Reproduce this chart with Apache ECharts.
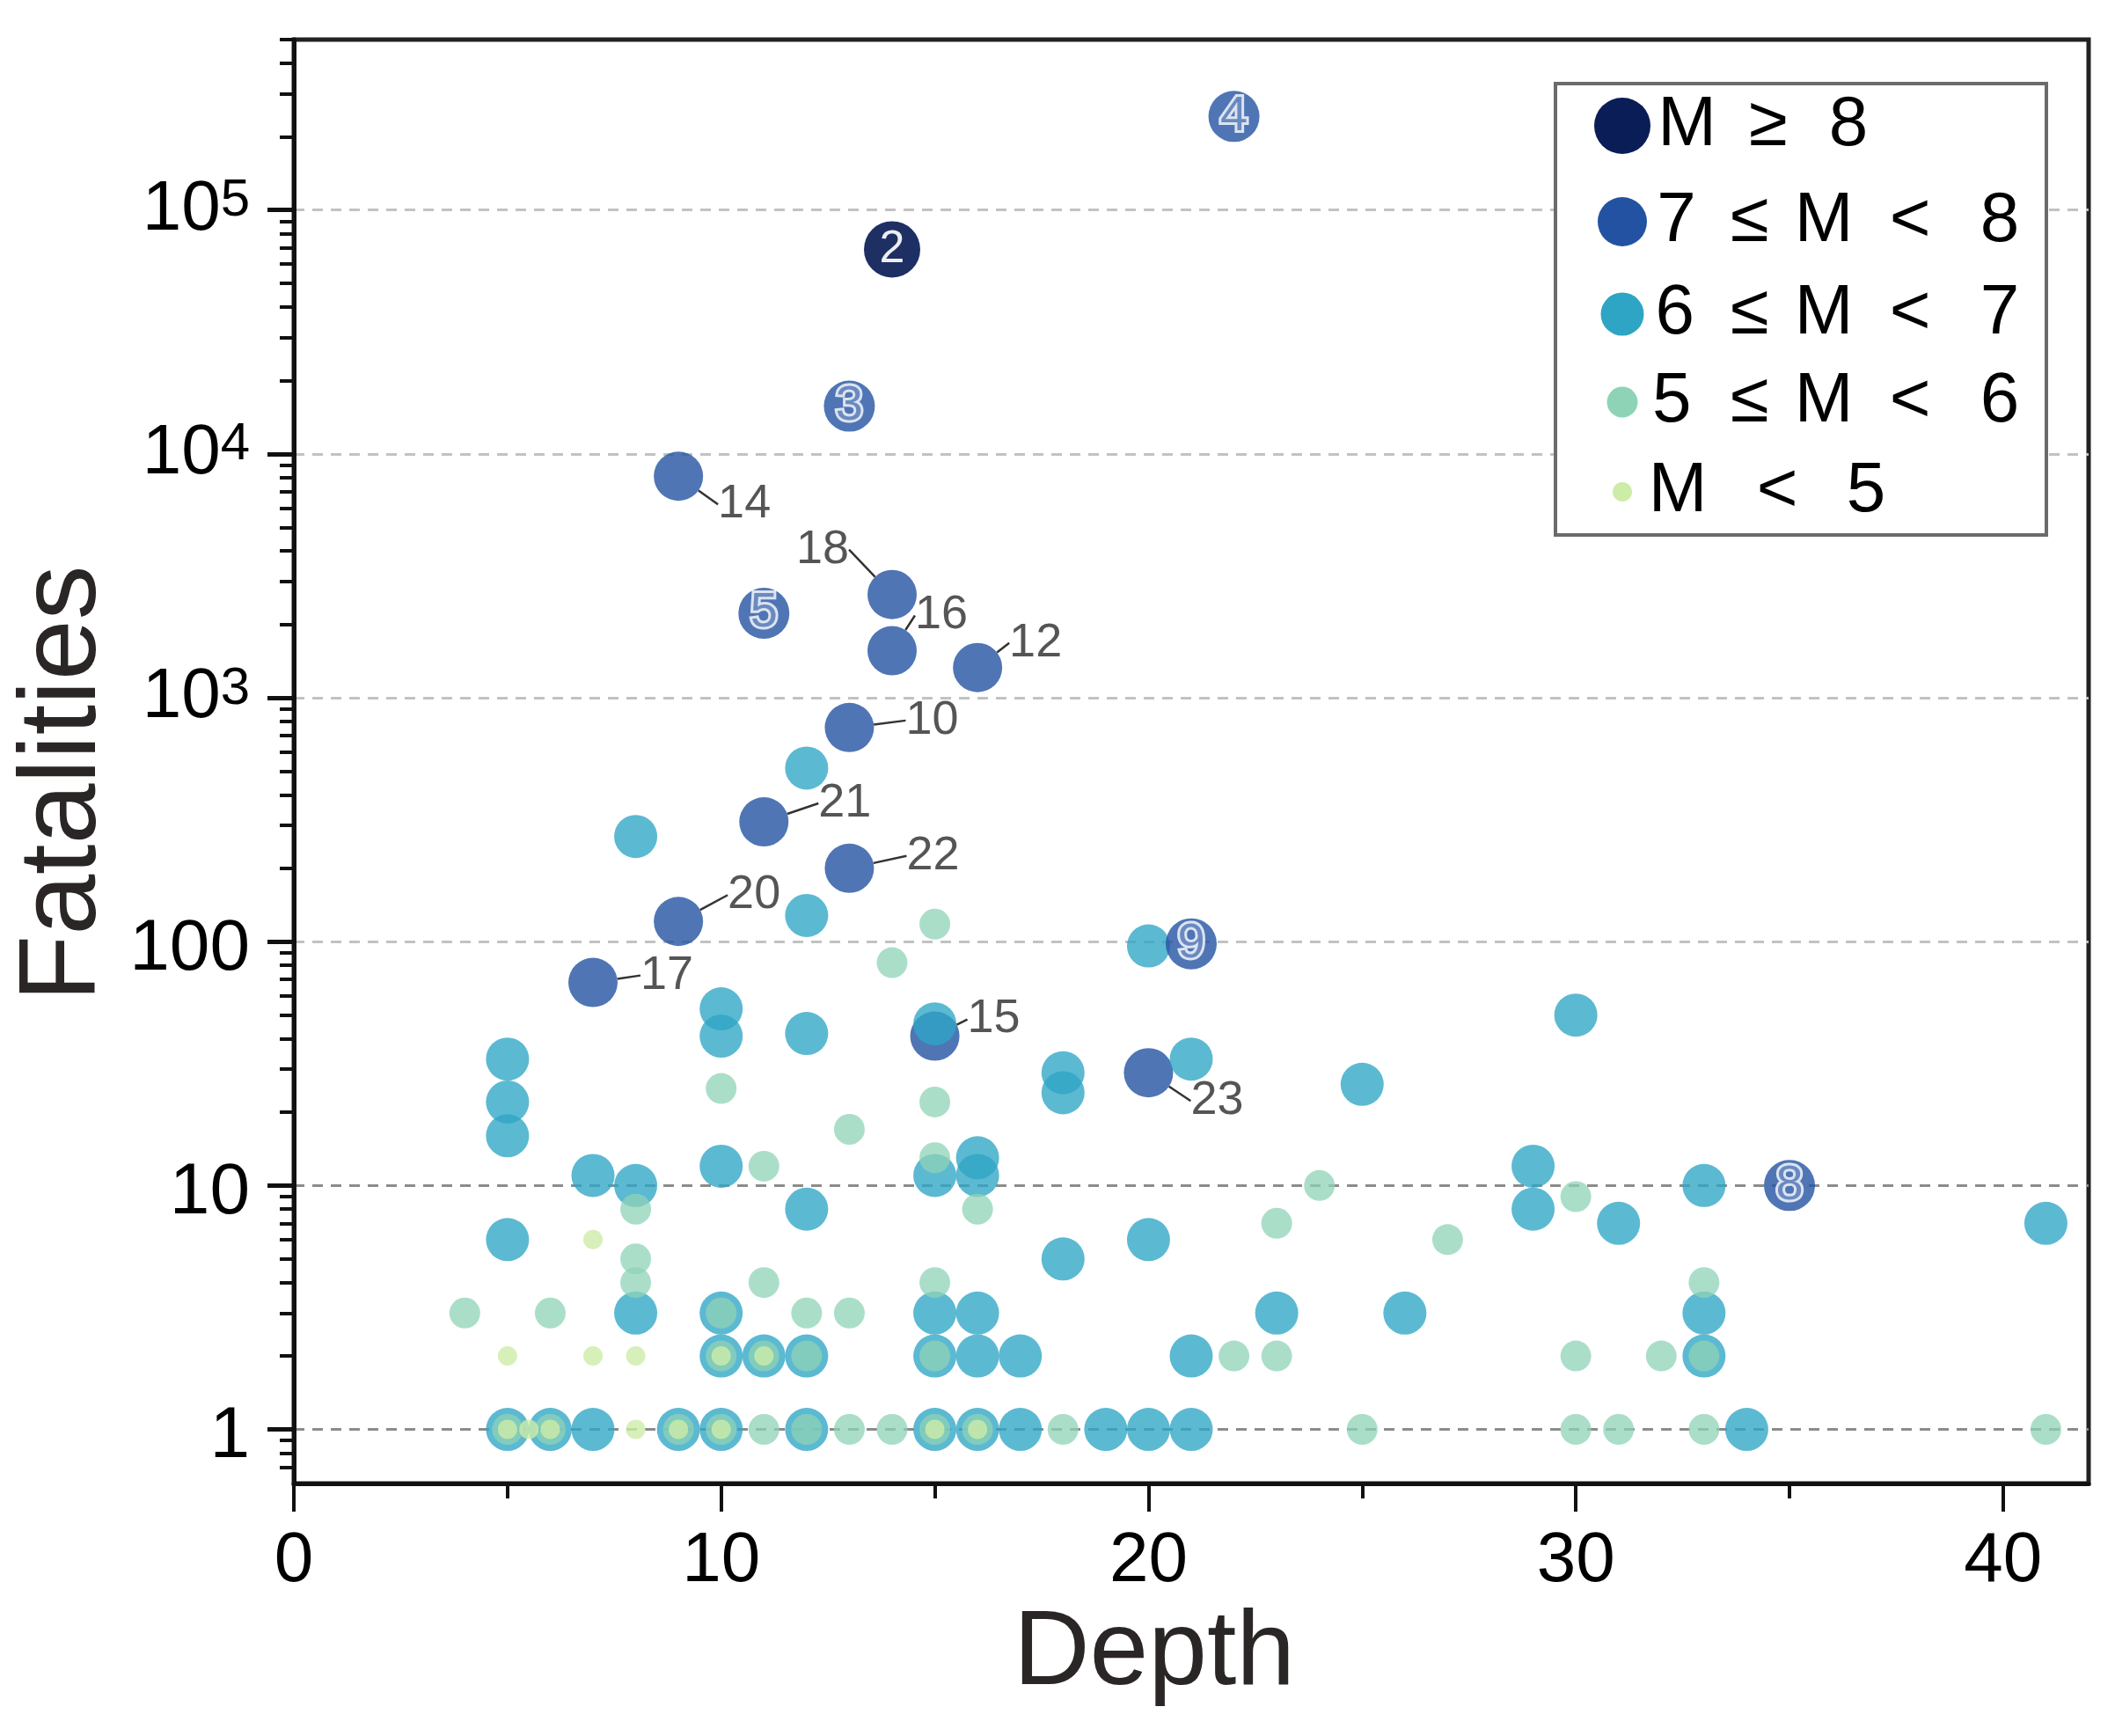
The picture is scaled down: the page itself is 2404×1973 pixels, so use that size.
<!DOCTYPE html>
<html>
<head>
<meta charset="utf-8">
<script src="https://cdn.jsdelivr.net/npm/echarts@6/dist/echarts.min.js"></script>
<style>
  html, body { margin: 0; padding: 0; background: #fff; }
  #chart { width: 2404px; height: 1973px; }
</style>
</head>
<body>
<div id="chart"></div>
<script>
// depth, fatalities
var m8 = [[14, 69000]];
var m8Ids = ['2'];

var m7Circled = [[22, 242000], [13, 15700], [11, 2220], [21, 98], [35, 10]];
var m7CircledIds = ['4', '3', '5', '9', '8'];

var m7Tagged = [[9, 8100], [14, 2650], [14, 1560], [16, 1330], [13, 755], [11, 310],
  [13, 200], [9, 121], [7, 68], [15, 41], [20, 29]];
var m7TaggedIds = ['14', '18', '16', '12', '10', '21', '22', '20', '17', '15', '23'];
// label offsets from the marker centre (px)
var m7TagOffsets = [[75, 32], [-79, -51], [56, -40], [66, -28], [94, -8], [92, -21],
  [95, -14], [86, -30], [84, -8], [67, -19], [78, 32]];

var m6 = [[12, 515], [8, 270], [12, 128], [20, 96], [10, 53], [10, 41], [12, 42], [15, 46],
  [30, 50], [5, 33], [5, 22], [5, 16], [18, 29], [18, 24], [21, 33], [25, 26], [10, 12],
  [7, 11], [8, 10], [12, 8], [15, 11], [16, 13], [16, 11], [29, 12], [29, 8], [33, 10],
  [5, 6], [20, 6], [18, 5], [31, 7], [41, 7],
  [8, 3], [10, 3], [15, 3], [16, 3], [23, 3], [26, 3], [33, 3],
  [10, 2], [11, 2], [12, 2], [15, 2], [16, 2], [17, 2], [21, 2], [33, 2],
  [5, 1], [6, 1], [7, 1], [9, 1], [10, 1], [12, 1], [15, 1], [16, 1], [17, 1], [19, 1],
  [20, 1], [21, 1], [34, 1]];

var m5 = [[15, 118], [14, 82], [10, 25], [15, 22], [13, 17], [11, 12], [15, 13], [24, 10],
  [30, 9], [8, 8], [16, 8], [23, 7], [27, 6], [8, 5], [8, 4], [11, 4], [15, 4], [33, 4],
  [4, 3], [6, 3], [10, 3], [12, 3], [13, 3],
  [10, 2], [11, 2], [12, 2], [15, 2], [22, 2], [23, 2], [30, 2], [32, 2], [33, 2],
  [5, 1], [6, 1], [9, 1], [10, 1], [11, 1], [12, 1], [13, 1], [14, 1], [15, 1], [16, 1],
  [18, 1], [25, 1], [30, 1], [31, 1], [33, 1], [41, 1]];

var m4 = [[7, 6], [5, 2], [7, 2], [8, 2], [10, 2], [11, 2], [5, 1], [5.5, 1], [6, 1],
  [8, 1], [9, 1], [10, 1], [15, 1], [16, 1]];

var xLabelValues = [0, 10, 20, 30, 40];
var xMinorValues = [5, 15, 25, 35];
var yLabelValues = [1, 10, 100, 1000, 10000, 100000];

var classNames = ['M ≥ 8', '7 ≤ M < 8', '6 ≤ M < 7', '5 ≤ M < 6', 'M < 5'];
var classParts = [['M', '≥', '8'], ['7', '≤', 'M', '<', '8'], ['6', '≤', 'M', '<', '7'],
  ['5', '≤', 'M', '<', '6'], ['M', '<', '5']];
var classColors = ['#0b1d57', '#2352a2', '#2ea5c5', '#8fd3b6', '#cdeca8'];
var classSizes = [64, 56, 49, 35, 22];

var yMin = 0.6, yMax = 500000;
var yMinor = [];
for (var e = -1; e <= 5; e++) {
  for (var k = 2; k <= 9; k++) {
    var v = k * Math.pow(10, e);
    if (v > yMin * 1.01 && v <= yMax * 1.0001) yMinor.push(v);
  }
}

var FONT = 'Liberation Sans, Arial, sans-serif';

// legend layout
var legendCenterX = 1844;
var legendRowY = [143, 252, 357, 457, 559];
var legendEdges = [[1954, 2066, 2136], [1934, 2044, 2102, 2240, 2306],
  [1934, 2044, 2102, 2240, 2306], [1934, 2044, 2102, 2240, 2306], [1954, 2086, 2156]];

var legends = classNames.map(function (name, i) {
  var size = classSizes[i];
  var textStart = legendCenterX + size / 2 + 5;
  var rich = {};
  var edges = legendEdges[i];
  edges.forEach(function (edge, j) {
    var left = j === 0 ? textStart : edges[j - 1];
    rich['t' + j] = { width: edge - left, align: j === 0 ? 'right' : 'center' };
  });
  return {
    data: [{ name: name, itemStyle: { opacity: 1 } }],
    left: legendCenterX - size / 2,
    top: legendRowY[i] - 40,
    padding: 0,
    itemWidth: size,
    itemHeight: size,
    selectedMode: false,
    z: 5,
    textStyle: { fontSize: 80, lineHeight: 80, color: '#000', fontFamily: FONT, rich: rich },
    formatter: function () {
      return classParts[i].map(function (p, j) { return '{t' + j + '|' + p + '}'; }).join('');
    }
  };
});

function named(points, ids) {
  return points.map(function (p, i) { return { value: p, name: ids[i] }; });
}

var chart = echarts.init(document.getElementById('chart'));

var option = {
  animation: false,
  backgroundColor: '#fff',
  textStyle: { fontFamily: FONT },
  grid: {
    left: 334, right: 30, top: 45, bottom: 287,
    show: true, borderColor: '#222', borderWidth: 5, backgroundColor: 'transparent'
  },
  legend: legends,
  graphic: [{
    type: 'rect', z: 3,
    shape: { x: 1768, y: 95, width: 558, height: 513 },
    style: { fill: '#fff', stroke: '#6b6b6b', lineWidth: 4 }
  }],
  xAxis: [{
    type: 'value', min: 0, max: 42, position: 'bottom',
    name: 'Depth', nameLocation: 'middle', nameGap: 135,
    nameTextStyle: { fontSize: 120, color: '#2b2626', fontFamily: FONT, padding: [0, 84, 0, 0] },
    axisLine: { show: true, lineStyle: { color: '#111', width: 5 } },
    axisTick: { show: true, customValues: xLabelValues, length: 32, lineStyle: { color: '#111', width: 4 } },
    axisLabel: { customValues: xLabelValues, fontSize: 80, color: '#000', margin: 49, fontFamily: FONT },
    splitLine: { show: false }
  }, {
    type: 'value', min: 0, max: 42, position: 'bottom',
    axisLine: { show: false },
    axisTick: { show: true, customValues: xMinorValues, length: 17, lineStyle: { color: '#111', width: 4 } },
    axisLabel: { show: false },
    splitLine: { show: false }
  }],
  yAxis: [{
    type: 'log', logBase: 10, min: yMin, max: yMax, position: 'left',
    name: 'Fatalities', nameLocation: 'middle', nameGap: 198,
    nameTextStyle: { fontSize: 124, color: '#2b2626', fontFamily: FONT, padding: [0, 50, 0, 0] },
    axisLine: { show: true, lineStyle: { color: '#111', width: 5 } },
    axisTick: { show: true, customValues: yLabelValues, length: 30, lineStyle: { color: '#111', width: 5 } },
    axisLabel: {
      customValues: yLabelValues, margin: 50, color: '#000', fontFamily: FONT,
      formatter: function (value) {
        var ex = Math.round(Math.log(value) / Math.LN10);
        if (ex < 3) return '{n|' + Math.round(value) + '}';
        return '{b|10}{s|' + ex + '}';
      },
      rich: {
        n: { fontSize: 82, lineHeight: 82, padding: [18, 0, 0, 0], color: '#000', fontFamily: FONT },
        b: { fontSize: 80, lineHeight: 80, verticalAlign: 'bottom', color: '#000', fontFamily: FONT },
        s: { fontSize: 60, lineHeight: 60, padding: [0, 0, 44, 0], verticalAlign: 'top', color: '#000', fontFamily: FONT }
      }
    },
    splitLine: {
      show: true,
      lineStyle: {
        color: ['#8c8c8c', '#8c8c8c', '#c2c2c2', '#c2c2c2', '#c2c2c2', '#c2c2c2'],
        width: 3, type: [12, 9]
      }
    }
  }, {
    type: 'log', logBase: 10, min: yMin, max: yMax, position: 'left',
    axisLine: { show: false },
    axisTick: { show: true, customValues: yMinor, length: 16, lineStyle: { color: '#111', width: 4 } },
    axisLabel: { show: false },
    splitLine: { show: false }
  }],
  series: [
    {
      name: classNames[0], type: 'scatter', symbolSize: classSizes[0],
      itemStyle: { color: classColors[0], opacity: 0.92 },
      data: named(m8, m8Ids),
      label: { show: true, position: 'inside', formatter: '{b}', color: '#fff', fontSize: 52, fontFamily: FONT }
    },
    {
      name: classNames[1], type: 'scatter', symbolSize: classSizes[1],
      itemStyle: { color: classColors[1], opacity: 0.8 },
      data: named(m7Tagged, m7TaggedIds),
      label: { show: true, position: 'inside', formatter: '{b}', color: '#2a2a2a', fontSize: 54, fontFamily: FONT },
      labelLayout: function (p) {
        var off = m7TagOffsets[p.dataIndex];
        return { dx: off[0], dy: off[1] };
      },
      labelLine: { show: true, lineStyle: { color: '#333', width: 2.5 } }
    },
    {
      name: classNames[2], type: 'scatter', symbolSize: classSizes[2],
      itemStyle: { color: classColors[2], opacity: 0.78 },
      data: m6
    },
    {
      name: classNames[3], type: 'scatter', symbolSize: classSizes[3],
      itemStyle: { color: classColors[3], opacity: 0.75 },
      data: m5
    },
    {
      name: classNames[4], type: 'scatter', symbolSize: classSizes[4],
      itemStyle: { color: classColors[4], opacity: 0.8 },
      data: m4
    },
    {
      name: classNames[1], type: 'scatter', symbolSize: 58,
      itemStyle: { color: classColors[1], opacity: 0.8 },
      data: named(m7Circled, m7CircledIds),
      label: {
        show: true, position: 'inside', formatter: '{b}', fontSize: 56,
        color: '#4e73b5', textBorderColor: '#fff', textBorderWidth: 6, fontFamily: FONT
      }
    }
  ]
};

chart.setOption(option);
window.addEventListener('resize', chart.resize);
</script>
</body>
</html>
